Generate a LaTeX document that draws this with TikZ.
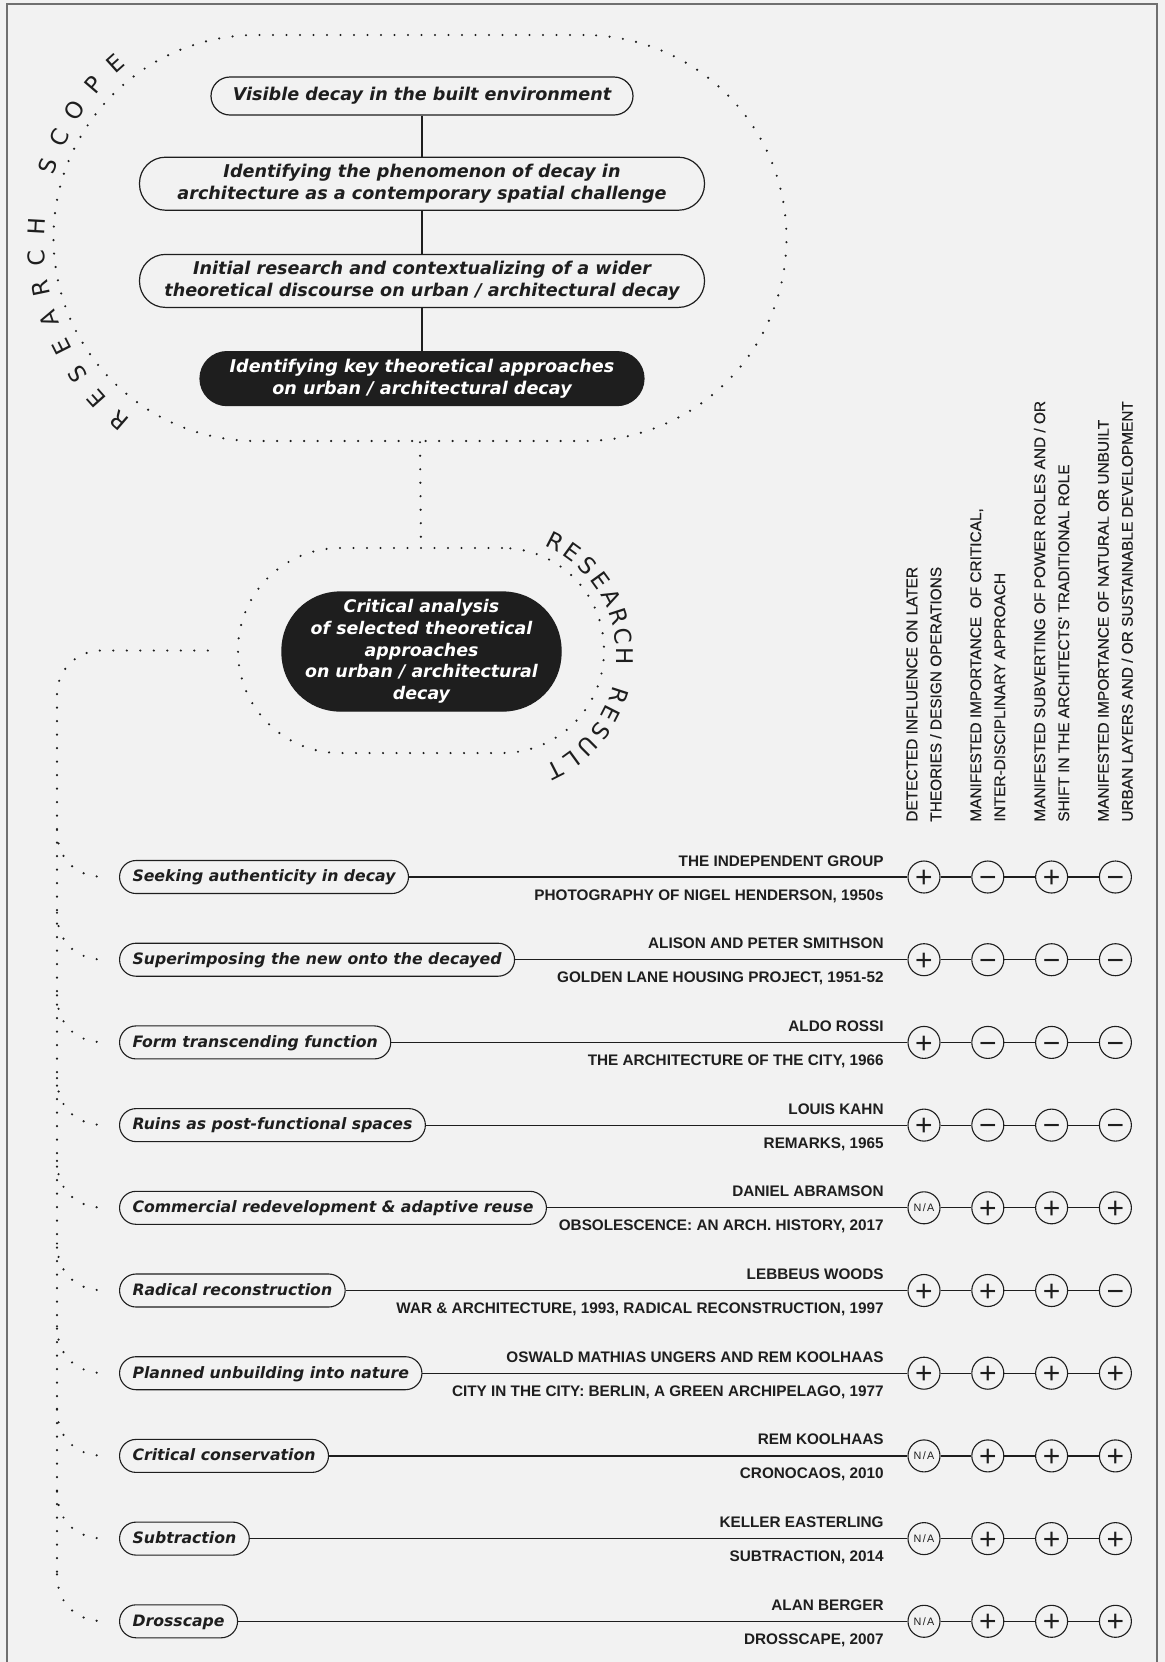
\documentclass[tikz,border=0pt]{standalone}
\usepackage{fontspec}
\setmainfont{Liberation Sans}
\newfontfamily\boxfont{DejaVu Sans}
\newfontfamily\headfont{Liberation Sans}[FakeBold=0.5]
\newfontfamily\nafont{Liberation Sans}[LetterSpace=12]
\usetikzlibrary{positioning}
\definecolor{paper}{HTML}{F2F2F2}
\definecolor{ink}{HTML}{1E1E1E}
\definecolor{framegrey}{HTML}{707070}
\newcommand\symP{\raisebox{-0.355em}{+}}
\newcommand\symM{\raisebox{-0.355em}{\char"2212}}
\newcommand\symN{{\nafont\fontsize{5.4}{6}\selectfont\raisebox{-0.358em}{N/A}}}

\begin{document}
\begin{tikzpicture}[x=0.5pt,y=-0.5pt,
  dotline/.style={draw=ink,line width=1.2pt,line cap=round,dash pattern=on 0pt off 6.75pt},
  thinline/.style={draw=ink,line width=0.6pt},
  topbox/.style={draw=ink,line width=0.6pt,fill=paper,text=ink,align=center,inner sep=0pt,font=\boxfont\bfseries\itshape\fontsize{8.8}{11}\selectfont},
  darkbox/.style={topbox,fill=ink,text=white},
  pill/.style={draw=ink,line width=0.55pt,fill=paper,text=ink,rounded corners=8.25pt,minimum height=16.5pt,inner xsep=6.5pt,inner ysep=0pt,text height=5.8pt,text depth=1pt,anchor=west,font=\boxfont\bfseries\itshape\fontsize{7.85}{9}\selectfont},
  who/.style={text=ink,inner sep=0pt,anchor=base east,font=\bfseries\fontsize{7.65}{9}\selectfont},
  head/.style={rotate=90,anchor=west,align=left,inner sep=0pt,text=ink,font=\headfont\fontsize{7.7}{12}\selectfont},
  sign/.style={circle,draw=ink,line width=0.55pt,fill=paper,minimum size=16pt,inner sep=0pt,text height=0pt,text depth=0pt,text=ink,font=\fontsize{15}{15}\selectfont},
  arcletter/.style={text=ink,inner sep=0pt,font=\boxfont\fontsize{11.5}{11.5}\selectfont}]
\useasboundingbox (0,0) rectangle (1165,1662);
\fill[paper] (0,0) rectangle (1165,1662);
\draw[framegrey,line width=1pt] (7,1670) |- (1157,4) -- (1157,1670);

\node[dotline,rounded corners=101.5pt,minimum width=366.5pt,minimum height=203pt,inner sep=0pt] (scope) at (420,238) {};
\node[topbox,minimum width=211pt,minimum height=19pt,rounded corners=9.5pt] (b1) at (422,96) {Visible decay in the built environment};
\node[topbox,minimum width=282.5pt,minimum height=26.5pt,rounded corners=13pt,below=20.5pt of b1] (b2) {Identifying the phenomenon of decay in\\architecture as a contemporary spatial challenge};
\node[topbox,minimum width=282.5pt,minimum height=26.5pt,rounded corners=13pt,below=21.5pt of b2] (b3) {Initial research and contextualizing of a wider\\theoretical discourse on urban / architectural decay};
\node[darkbox,minimum width=222pt,minimum height=27pt,rounded corners=13.5pt,below=21.5pt of b3] (b4) {Identifying key theoretical approaches\\on urban / architectural decay};
\draw[thinline] (b1) -- (b2) -- (b3) -- (b4);
\foreach \ch [count=\i from 0] in {R,E,S,E,A,R,C,H,{},S,C,O,P,E}
  \node[arcletter,rotate={229.2-7.48*\i-90}] (sc\i) at ({274+238*cos(229.2-7.48*\i)},{240-238*sin(229.2-7.48*\i)}) {\ch};

\node[dotline,rounded corners=51pt,minimum width=183pt,minimum height=102.5pt,inner sep=0pt] (result) at (421,650.5) {};
\node[darkbox,minimum width=139.5pt,minimum height=59.5pt,rounded corners=29pt,font=\boxfont\bfseries\itshape\fontsize{8.7}{10.85}\selectfont] (crit) at (421.5,651.5) {Critical analysis\\of selected theoretical\\approaches\\on urban / architectural\\decay};
\draw[dotline] (scope.south) -- (result.north);
\foreach \ch [count=\i from 0] in {R,E,S,E,A,R,C,H,{},R,E,S,U,L,T}
  \node[arcletter,rotate={63-9*\i-90}] (rs\i) at ({497+128*cos(63-9*\i)},{656-128*sin(63-9*\i)}) {\ch};
\draw[dotline,rounded corners=22pt] ([xshift=-14.5pt]result.west) -| (57,1574);

\node[head] (h1) at (924,822) {DETECTED INFLUENCE ON LATER\\THEORIES / DESIGN OPERATIONS};
\node[head] (h2) at (987.8,822) {MANIFESTED IMPORTANCE \ OF CRITICAL,\\INTER-DISCIPLINARY APPROACH};
\node[head] (h3) at (1051.6,822) {MANIFESTED SUBVERTING OF POWER ROLES AND / OR\\SHIFT IN THE ARCHITECTS' TRADITIONAL ROLE};
\node[head] (h4) at (1115.4,822) {MANIFESTED IMPORTANCE OF NATURAL OR UNBUILT\\URBAN LAYERS AND / OR SUSTAINABLE DEVELOPMENT};

\foreach \k/\txt/\who/\what/\ka/\kb/\kc/\kd in {
  1/{Seeking authenticity in decay}/{THE INDEPENDENT GROUP}/{PHOTOGRAPHY OF NIGEL HENDERSON, 1950s}/P/M/P/M,
  2/{Superimposing the new onto the decayed}/{ALISON AND PETER SMITHSON}/{GOLDEN LANE HOUSING PROJECT, 1951-52}/P/M/M/M,
  3/{Form transcending function}/{ALDO ROSSI}/{THE ARCHITECTURE OF THE CITY, 1966}/P/M/M/M,
  4/{Ruins as post-functional spaces}/{LOUIS KAHN}/{REMARKS, 1965}/P/M/M/M,
  5/{Commercial redevelopment \& adaptive reuse}/{DANIEL ABRAMSON}/{OBSOLESCENCE: AN ARCH. HISTORY, 2017}/N/P/P/P,
  6/{Radical reconstruction}/{LEBBEUS WOODS}/{WAR \& ARCHITECTURE, 1993, RADICAL RECONSTRUCTION, 1997}/P/P/P/M,
  7/{Planned unbuilding into nature}/{OSWALD MATHIAS UNGERS AND REM KOOLHAAS}/{CITY IN THE CITY: BERLIN, A GREEN ARCHIPELAGO, 1977}/P/P/P/P,
  8/{Critical conservation}/{REM KOOLHAAS}/{CRONOCAOS, 2010}/N/P/P/P,
  9/{Subtraction}/{KELLER EASTERLING}/{SUBTRACTION, 2014}/N/P/P/P,
  10/{Drosscape}/{ALAN BERGER}/{DROSSCAPE, 2007}/N/P/P/P}{
  \pgfmathsetmacro\y{877+82.7*(\k-1)}
  \node[pill] (p\k) at (119,\y) {\txt};
  \node[who] (w\k) at (884,\y-11) {\who};
  \node[who] (t\k) at (884,\y+23) {\what};
  \foreach \s [count=\j] in {\ka,\kb,\kc,\kd}
    \node[sign] (s\k-\j) at ({924+63.8*(\j-1)},\y) {\csname sym\s\endcsname};
  \draw[thinline] (p\k) -- (s\k-1) -- (s\k-2) -- (s\k-3) -- (s\k-4);
  \draw[dotline] (57,\y-47) .. controls (57,\y-22) and (72,\y) .. ([xshift=-7pt]p\k.west);
}
\end{tikzpicture}
\end{document}
